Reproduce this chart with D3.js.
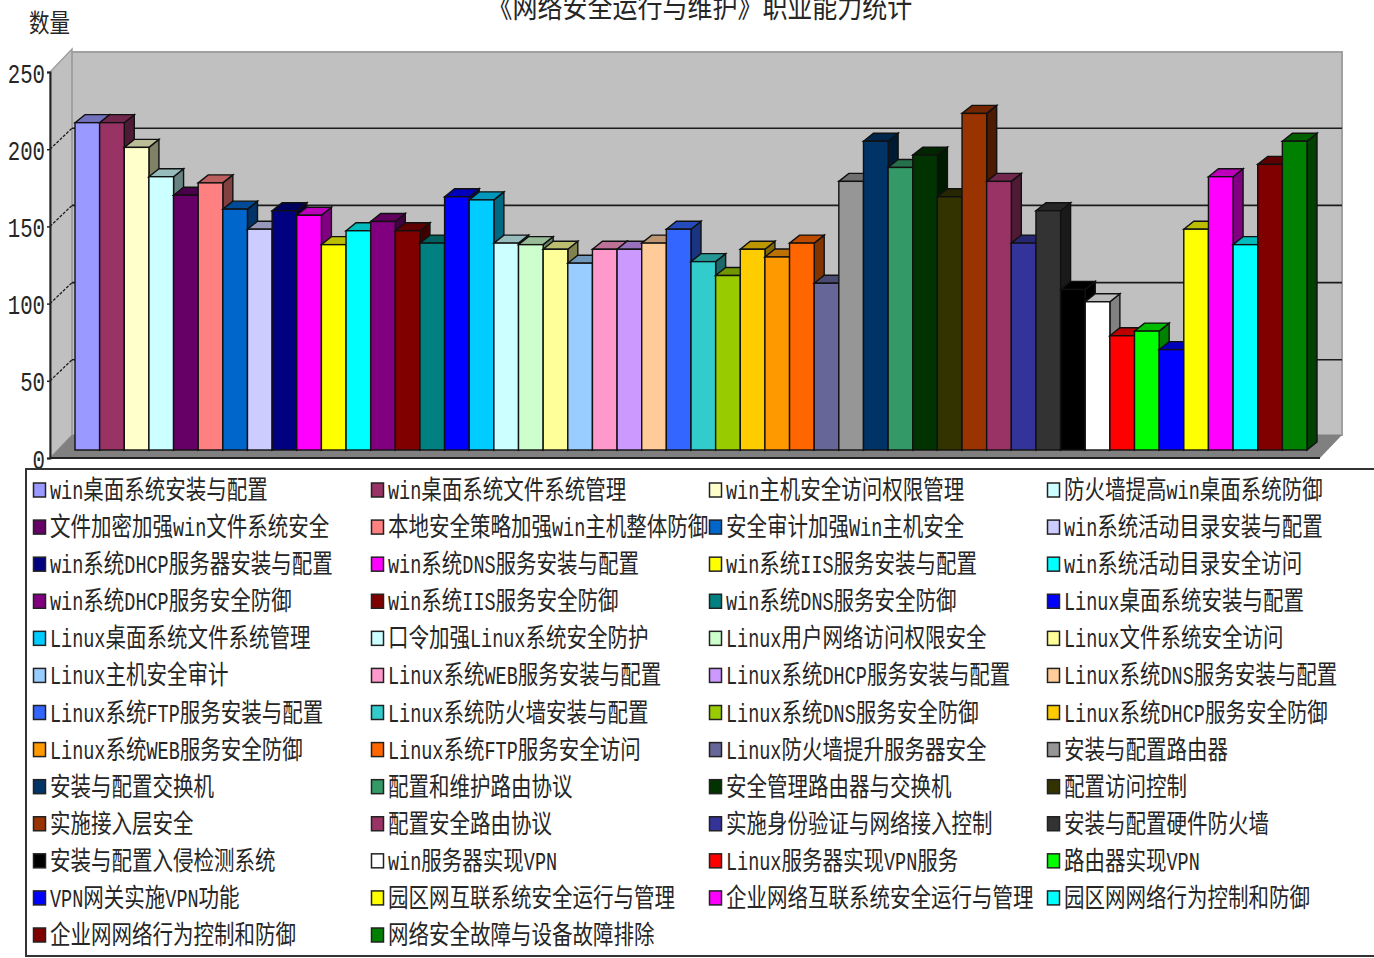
<!DOCTYPE html>
<html lang="zh">
<head>
<meta charset="utf-8">
<title>《网络安全运行与维护》职业能力统计</title>
<script src="https://cdn.jsdelivr.net/npm/d3@7"></script>
<style>
html,body{margin:0;padding:0;background:#fff;overflow:hidden}
svg{display:block}
</style>
</head>
<body>
<svg id="chart" width="1374" height="958"></svg>
<script>
const chartTitle = "《网络安全运行与维护》职业能力统计";
const yAxisTitle = "数量";
const yTicks = [0, 50, 100, 150, 200, 250];

const categories = [
  "win桌面系统安装与配置","win桌面系统文件系统管理","win主机安全访问权限管理","防火墙提高win桌面系统防御",
  "文件加密加强win文件系统安全","本地安全策略加强win主机整体防御","安全审计加强Win主机安全","win系统活动目录安装与配置",
  "win系统DHCP服务器安装与配置","win系统DNS服务安装与配置","win系统IIS服务安装与配置","win系统活动目录安全访问",
  "win系统DHCP服务安全防御","win系统IIS服务安全防御","win系统DNS服务安全防御","Linux桌面系统安装与配置",
  "Linux桌面系统文件系统管理","口令加强Linux系统安全防护","Linux用户网络访问权限安全","Linux文件系统安全访问",
  "Linux主机安全审计","Linux系统WEB服务安装与配置","Linux系统DHCP服务安装与配置","Linux系统DNS服务安装与配置",
  "Linux系统FTP服务安装与配置","Linux系统防火墙安装与配置","Linux系统DNS服务安全防御","Linux系统DHCP服务安全防御",
  "Linux系统WEB服务安全防御","Linux系统FTP服务安全访问","Linux防火墙提升服务器安全","安装与配置路由器",
  "安装与配置交换机","配置和维护路由协议","安全管理路由器与交换机","配置访问控制",
  "实施接入层安全","配置安全路由协议","实施身份验证与网络接入控制","安装与配置硬件防火墙",
  "安装与配置入侵检测系统","win服务器实现VPN","Linux服务器实现VPN服务","路由器实现VPN",
  "VPN网关实施VPN功能","园区网互联系统安全运行与管理","企业网络互联系统安全运行与管理","园区网网络行为控制和防御",
  "企业网网络行为控制和防御","网络安全故障与设备故障排除"
];

const counts = [
  212,212,196,177,165,173,156,143,155,152,
  133,142,148,142,134,164,162,134,133,130,
  121,130,130,134,143,122,113,130,125,134,
  108,174,200,183,191,164,218,174,134,155,
  104,96,74,77,65,143,177,133,185,200
];

const barColors = [
  "#9999ff","#993366","#ffffcc","#ccffff","#660066","#ff8080","#0066cc","#ccccff","#000080","#ff00ff",
  "#ffff00","#00ffff","#800080","#800000","#008080","#0000ff","#00ccff","#ccffff","#ccffcc","#ffff99",
  "#99ccff","#ff99cc","#cc99ff","#ffcc99","#3366ff","#33cccc","#99cc00","#ffcc00","#ff9900","#ff6600",
  "#666699","#969696","#003366","#339966","#003300","#333300","#993300","#993366","#333399","#333333",
  "#000000","#ffffff","#ff0000","#00ff00","#0000ff","#ffff00","#ff00ff","#00ffff","#800000","#008000"
];

const svg = d3.select("#chart");
const cjkFont = "'Noto Sans CJK SC','Noto Sans',sans-serif";
const monoFont = "'Liberation Mono','DejaVu Sans Mono',monospace";
const ink = "#262626";

// Plot box: front plane, and the wall pushed back by (wallDx, -wallDy).
const front = {left: 50, right: 1320, bottom: 458, top: 72};
const wallDx = 22, wallDy = 23, gridDy = 21;
const y = d3.scaleLinear().domain([0, 250]).range([front.bottom, front.top]);

// Bars stand slightly in from the front edge of the floor.
const barBase = 8;
const barDepthX = 10, barDepthY = 8;
const x = d3.scaleBand().domain(categories).range([75, 1307]);
const barY = v => y(v) - barBase;

const poly = pts => pts.map(p => p.join(",")).join(" ");

// Walls and floor
svg.append("polygon").attr("fill", "#c0c0c0").attr("stroke", "#a0a0a0").attr("stroke-width", 1.5)
  .attr("points", poly([[front.left, y(250)], [front.left + wallDx, y(250) - wallDy],
                        [front.left + wallDx, y(0) - wallDy], [front.left, y(0)]]));
svg.append("rect").attr("fill", "#c0c0c0").attr("stroke", "#a0a0a0").attr("stroke-width", 2)
  .attr("x", front.left + wallDx).attr("y", y(250) - wallDy + 3)
  .attr("width", front.right - front.left).attr("height", y(0) - y(250) - 3);
svg.append("polygon").attr("fill", "#808080")
  .attr("points", poly([[front.left, y(0)], [front.right, y(0)],
                        [front.right + wallDx, y(0) - wallDy], [front.left + wallDx, y(0) - wallDy]]));

// Gridlines across the back wall, with dotted returns on the side wall
const gridTicks = yTicks.filter(t => t > 0 && t < 250);
svg.append("g").selectAll("line").data(gridTicks).join("line")
  .attr("x1", front.left + wallDx).attr("x2", front.right + wallDx)
  .attr("y1", d => y(d) - gridDy).attr("y2", d => y(d) - gridDy)
  .attr("stroke", "#1c1c1c").attr("stroke-width", 1.6);
svg.append("g").selectAll("line").data(gridTicks).join("line")
  .attr("x1", front.left).attr("x2", front.left + wallDx)
  .attr("y1", d => y(d)).attr("y2", d => y(d) - gridDy)
  .attr("stroke", "#1c1c1c").attr("stroke-width", 1.3).attr("stroke-dasharray", "3 1.5");

// Baseline along the front of the floor
svg.append("line").attr("x1", front.left).attr("x2", front.right)
  .attr("y1", y(0)).attr("y2", y(0)).attr("stroke", "#222").attr("stroke-width", 2);

// Bars, painted left to right so each face covers its neighbour's side
const bars = svg.append("g").selectAll("g")
  .data(categories.map((name, i) => ({name, value: counts[i], color: barColors[i]})))
  .join("g")
  .attr("stroke", "#111").attr("stroke-width", 1.4).attr("stroke-linejoin", "miter");

bars.append("polygon")
  .attr("fill", d => d3.rgb(d.color).darker(1.9).formatHex())
  .attr("points", d => {
    const r = x(d.name) + x.bandwidth(), t = barY(d.value), b = barY(0);
    return poly([[r, t], [r + barDepthX, t - barDepthY], [r + barDepthX, b - barDepthY], [r, b]]);
  });
bars.append("polygon")
  .attr("fill", d => d3.rgb(d.color).darker(0.85).formatHex())
  .attr("points", d => {
    const l = x(d.name), r = l + x.bandwidth(), t = barY(d.value);
    return poly([[l, t], [l + barDepthX, t - barDepthY], [r + barDepthX, t - barDepthY], [r, t]]);
  });
bars.append("rect")
  .attr("fill", d => d.color)
  .attr("x", d => x(d.name)).attr("width", x.bandwidth())
  .attr("y", d => barY(d.value)).attr("height", d => barY(0) - barY(d.value));

// Mixed-script text: CJK and Latin runs are squeezed separately to the
// tall, narrow proportions of the chart's bitmap lettering.
function drawRuns(parent, label, px, py, size, cjkWidth, latinWidth) {
  let cursor = px;
  for (const run of label.match(/[\x00-\x7f]+|[^\x00-\x7f]+/g)) {
    const latin = /^[\x00-\x7f]/.test(run);
    const sx = latin ? latinWidth / (size * 0.6) : cjkWidth / size;
    parent.append("text")
      .attr("transform", `translate(${cursor},${py}) scale(${sx},1)`)
      .attr("font-family", latin ? monoFont : cjkFont)
      .attr("font-size", size).attr("fill", ink)
      .text(run);
    cursor += run.length * (latin ? latinWidth : cjkWidth);
  }
}

// Value axis
const axis = svg.append("g")
  .attr("transform", `translate(${front.left},0)`)
  .call(d3.axisLeft(y).tickValues(yTicks).tickSize(3).tickFormat(d3.format("d")));
axis.select(".domain").attr("stroke", "#222").attr("stroke-width", 2);
axis.selectAll(".tick line").attr("stroke", "#222").attr("stroke-width", 1.5);
axis.selectAll(".tick text")
  .attr("font-family", monoFont).attr("font-size", 28).attr("fill", ink)
  .attr("text-anchor", "end").attr("dy", null)
  .attr("x", -5 / 0.74).attr("y", 10)
  .attr("transform", "scale(0.74,1)");

// Titles
drawRuns(svg, yAxisTitle, 29, 32, 25, 20.5, 10.5);
drawRuns(svg, chartTitle, 487.5, 18, 29, 25, 12.5);

// Legend
const legendRows = d3.range(Math.ceil(categories.length / 4));
const legendCols = d3.range(4);
const rowY = d3.scalePoint().domain(legendRows).range([490, 935]);
const colX = d3.scalePoint().domain(legendCols).range([33, 1047]);

svg.append("rect").attr("x", 26).attr("y", 469).attr("width", 1360).attr("height", 487)
  .attr("fill", "#fff").attr("stroke", "#333").attr("stroke-width", 2);

const legend = svg.append("g");
categories.forEach((name, i) => {
  const lx = colX(i % 4), ly = rowY(Math.floor(i / 4));
  legend.append("rect").attr("x", lx + 0.5).attr("y", ly - 7)
    .attr("width", 12).attr("height", 14)
    .attr("fill", barColors[i]).attr("stroke", "#222").attr("stroke-width", 1.5);
  drawRuns(legend, name, lx + 17, ly + 9, 26, 20.5, 11.1);
});
</script>
</body>
</html>
